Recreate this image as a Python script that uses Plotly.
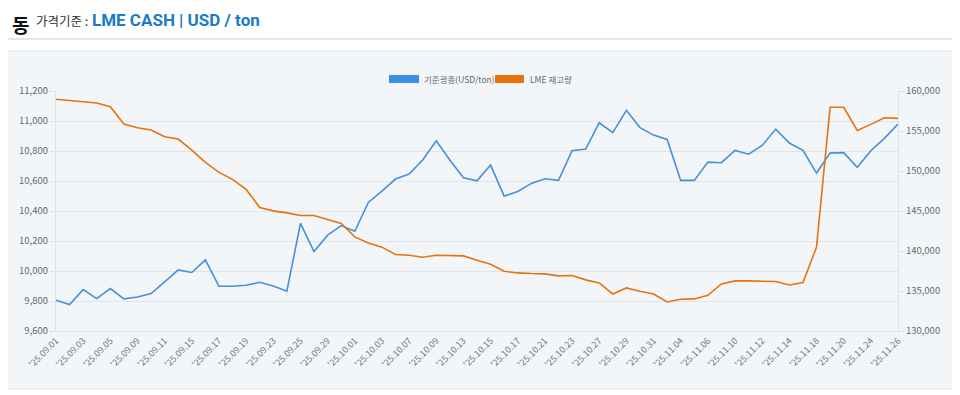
import plotly.graph_objects as go

dates = [
    "25.09.01", "25.09.02", "25.09.03", "25.09.04", "25.09.05", "25.09.08", "25.09.09", "25.09.10",
    "25.09.11", "25.09.12", "25.09.15", "25.09.16", "25.09.17", "25.09.18", "25.09.19", "25.09.22",
    "25.09.23", "25.09.24", "25.09.25", "25.09.26", "25.09.29", "25.09.30",
    "25.10.01", "25.10.02", "25.10.03", "25.10.06", "25.10.07", "25.10.08", "25.10.09", "25.10.10",
    "25.10.13", "25.10.14", "25.10.15", "25.10.16", "25.10.17", "25.10.20", "25.10.21", "25.10.22",
    "25.10.23", "25.10.24", "25.10.27", "25.10.28", "25.10.29", "25.10.30", "25.10.31",
    "25.11.03", "25.11.04", "25.11.05", "25.11.06", "25.11.07", "25.11.10", "25.11.11", "25.11.12",
    "25.11.13", "25.11.14", "25.11.17", "25.11.18", "25.11.19", "25.11.20", "25.11.21", "25.11.24",
    "25.11.25", "25.11.26",
]

price = [
    9805, 9776, 9876, 9816, 9883, 9814, 9827, 9850, 9927, 10007,
    9990, 10074, 9898, 9898, 9905, 9925, 9900, 9865, 10317, 10130,
    10239, 10303, 10265, 10457, 10532, 10613, 10646, 10740, 10868, 10740,
    10622, 10601, 10706, 10499, 10530, 10584, 10615, 10604, 10802, 10813,
    10988, 10922, 11071, 10956, 10906, 10877, 10604, 10604, 10726, 10722,
    10804, 10779, 10837, 10946, 10853, 10804, 10653, 10786, 10789, 10691,
    10802, 10884, 10980,
]

stock = [
    158960, 158840, 158660, 158500, 158040, 155870, 155410, 155120, 154280, 153990,
    152620, 151080, 149820, 148950, 147700, 145440, 145020, 144770, 144440, 144440,
    143940, 143440, 141760, 141010, 140480, 139560, 139470, 139220, 139470, 139440,
    139390, 138850, 138350, 137470, 137260, 137180, 137140, 136890, 136930, 136390,
    136010, 134630, 135380, 134970, 134630, 133630, 133970, 134010, 134470, 135890,
    136260, 136260, 136260, 136180, 135760, 136050, 140480, 157960, 157960, 155080,
    155830, 156660, 156580,
]

series_names = ["기준광종(USD/ton)", "LME 재고량"]
left_ticks = [9600, 9800, 10000, 10200, 10400, 10600, 10800, 11000, 11200]
right_ticks = [130000, 135000, 140000, 145000, 150000, 155000, 160000]

BLUE = "#4590db"
ORANGE = "#e8720c"
CARD = "#f3f6f9"
FONT = "Noto Sans CJK KR, Noto Sans, sans-serif"

labels = ["'" + d for d in dates]
tickvals = labels[::2]

fig = go.Figure()
fig.add_trace(go.Scatter(x=labels, y=price, name=series_names[0], mode="lines",
                         line=dict(color=BLUE, width=1.6), yaxis="y", showlegend=False))
fig.add_trace(go.Scatter(x=labels, y=stock, name=series_names[1], mode="lines",
                         line=dict(color=ORANGE, width=1.6), yaxis="y2", showlegend=False))

# page body has an 8px margin: figure coordinates = screen coordinates - 8
OFF = 8
W, H = 960 - OFF, 395 - OFF
ml, mr, mt, mb = 56 - OFF, 62, 91 - OFF, 64
pw, ph = W - ml - mr, H - mt - mb


def px(x):
    return (x - OFF - ml) / pw


def py(y):
    return (H - mb - (y - OFF)) / ph


shapes = [
    dict(type="rect", xref="paper", yref="paper", x0=px(3), x1=px(957), y0=py(389), y1=py(51),
         fillcolor=CARD, line=dict(color="#e3e8ee", width=1), layer="below"),
    dict(type="line", xref="paper", yref="paper", x0=px(0), x1=px(960), y0=py(39), y1=py(39),
         line=dict(color="#e6e6e6", width=2)),
    dict(type="rect", xref="paper", yref="paper", x0=px(389), x1=px(419), y0=py(83), y1=py(75),
         fillcolor="#3a8ee6", line=dict(width=0)),
    dict(type="rect", xref="paper", yref="paper", x0=px(495), x1=px(524), y0=py(83), y1=py(75),
         fillcolor=ORANGE, line=dict(width=0)),
]

annotations = [
    dict(text="<b>동</b>", xref="paper", yref="paper", x=px(10), y=py(9), xanchor="left",
         yanchor="top", showarrow=False, font=dict(size=19, color="#111", family=FONT)),
    dict(text="가격기준 :", xref="paper", yref="paper", x=px(34), y=py(21), xanchor="left",
         yanchor="middle", showarrow=False, font=dict(size=12.5, color="#333", family=FONT)),
    dict(text="<b>LME CASH | USD / ton</b>", xref="paper", yref="paper", x=px(90), y=py(20),
         xanchor="left", yanchor="middle", showarrow=False,
         font=dict(size=17, color="#1a7bc8", family="Roboto, Noto Sans, sans-serif")),
    dict(text=series_names[0], xref="paper", yref="paper", x=px(422), y=py(79), xanchor="left",
         yanchor="middle", showarrow=False, font=dict(size=8.5, color="#666", family=FONT)),
    dict(text=series_names[1], xref="paper", yref="paper", x=px(528), y=py(79), xanchor="left",
         yanchor="middle", showarrow=False, font=dict(size=8.5, color="#666", family=FONT)),
]

fig.update_layout(
    width=W, height=H,
    margin=dict(l=ml, r=mr, t=mt, b=mb, pad=0),
    paper_bgcolor="white",
    plot_bgcolor=CARD,
    font=dict(family=FONT, size=10, color="#666"),
    shapes=shapes,
    annotations=annotations,
    showlegend=False,
    xaxis=dict(
        type="category", range=[0, len(labels) - 1], tickmode="array", tickvals=tickvals,
        ticktext=tickvals, tickangle=-45, showgrid=False, showline=True,
        linecolor="#dfe3e8", linewidth=1, ticks="", tickfont=dict(size=9, color="#777"),
        zeroline=False, fixedrange=True,
    ),
    yaxis=dict(
        range=[9600, 11200], tickmode="array", tickvals=left_ticks,
        tickformat=",d", showgrid=True, gridcolor="#e1e5ea", gridwidth=1,
        showline=True, linecolor="#dfe3e8", ticks="outside", ticklen=5, tickcolor="#dfe3e8",
        tickfont=dict(size=9.5, color="#666"), zeroline=False,
    ),
    yaxis2=dict(
        range=[130000, 160000], tickmode="array", tickvals=right_ticks, tickformat=",d",
        overlaying="y", side="right", showgrid=False, showline=True, linecolor="#dfe3e8",
        ticks="outside", ticklen=5, tickcolor="#dfe3e8",
        tickfont=dict(size=9.5, color="#666"), zeroline=False,
    ),
)

fig.write_html("out.html")
